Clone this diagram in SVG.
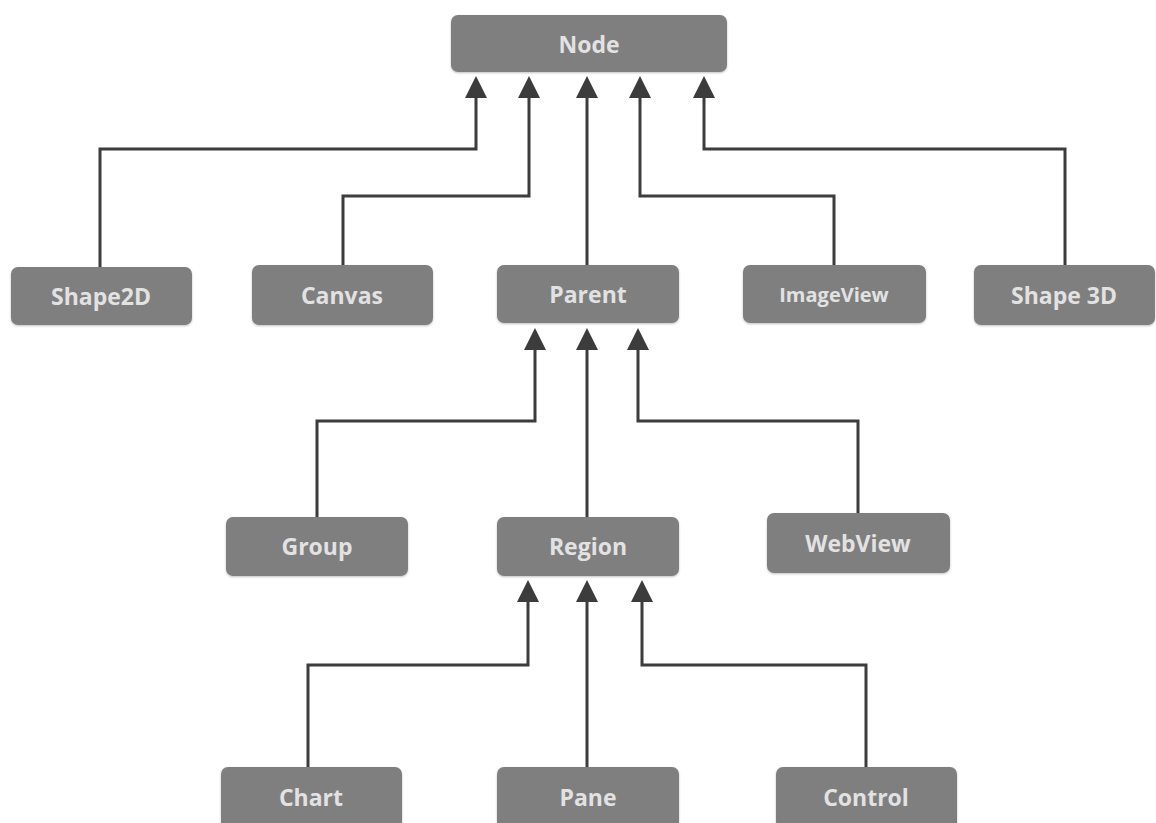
<svg xmlns="http://www.w3.org/2000/svg" width="1156" height="823" viewBox="0 0 1156 823">
<defs>
<marker id="arr" markerUnits="userSpaceOnUse" markerWidth="24" markerHeight="24" viewBox="0 0 24 24" refX="0" refY="12" orient="auto">
<path d="M0,1 L22,12 L0,23 Z" fill="#3c3c3c"/>
</marker>
<filter id="sh" x="-5%" y="-10%" width="110%" height="125%">
<feGaussianBlur in="SourceAlpha" stdDeviation="1.2"/>
<feOffset dx="0" dy="1" result="b"/>
<feComponentTransfer><feFuncA type="linear" slope="0.25"/></feComponentTransfer>
<feMerge><feMergeNode/><feMergeNode in="SourceGraphic"/></feMerge>
</filter>
</defs>
<style>
.box{fill:#7f7f7f;filter:url(#sh)}
.lbl{font-family:"Open Sans","Liberation Sans",sans-serif;font-weight:bold;font-size:23px;fill:#e2e2e2;text-anchor:middle}
.sm{font-size:20px}
.c{fill:none;stroke:#3c3c3c;stroke-width:3;stroke-linejoin:miter}
</style>
<rect width="1156" height="823" fill="#ffffff"/>
<g id="connectors">
<path class="c" d="M100,267 V149 H476 V98" marker-end="url(#arr)"/>
<path class="c" d="M343,265 V196 H529 V98" marker-end="url(#arr)"/>
<path class="c" d="M587,265 V98" marker-end="url(#arr)"/>
<path class="c" d="M834,265 V196 H640 V98" marker-end="url(#arr)"/>
<path class="c" d="M1065,265 V149 H704 V98" marker-end="url(#arr)"/>
<path class="c" d="M317,517 V421 H535 V350" marker-end="url(#arr)"/>
<path class="c" d="M587,517 V350" marker-end="url(#arr)"/>
<path class="c" d="M858,513 V421 H638 V350" marker-end="url(#arr)"/>
<path class="c" d="M308,767 V665 H528 V602" marker-end="url(#arr)"/>
<path class="c" d="M587,767 V602" marker-end="url(#arr)"/>
<path class="c" d="M866,767 V665 H642 V602" marker-end="url(#arr)"/>
</g>
<g id="node-Node"><rect class="box" x="451" y="15" width="276" height="57" rx="7"/><text class="lbl" x="589" y="53">Node</text></g>
<g id="node-Shape2D"><rect class="box" x="11" y="267" width="181" height="58" rx="7"/><text class="lbl" x="101" y="305">Shape2D</text></g>
<g id="node-Canvas"><rect class="box" x="252" y="265" width="181" height="60" rx="7"/><text class="lbl" x="342" y="304">Canvas</text></g>
<g id="node-Parent"><rect class="box" x="497" y="265" width="182" height="58" rx="7"/><text class="lbl" x="588" y="303">Parent</text></g>
<g id="node-ImageView"><rect class="box" x="743" y="265" width="183" height="58" rx="7"/><text class="lbl sm" x="834" y="302">ImageView</text></g>
<g id="node-Shape3D"><rect class="box" x="974" y="265" width="181" height="60" rx="7"/><text class="lbl" x="1064" y="304">Shape 3D</text></g>
<g id="node-Group"><rect class="box" x="226" y="517" width="182" height="59" rx="7"/><text class="lbl" x="317" y="555">Group</text></g>
<g id="node-Region"><rect class="box" x="497" y="517" width="182" height="59" rx="7"/><text class="lbl" x="588" y="555">Region</text></g>
<g id="node-WebView"><rect class="box" x="767" y="513" width="183" height="60" rx="7"/><text class="lbl" x="858" y="552">WebView</text></g>
<g id="node-Chart"><rect class="box" x="221" y="767" width="181" height="62" rx="7"/><text class="lbl" x="311" y="806">Chart</text></g>
<g id="node-Pane"><rect class="box" x="497" y="767" width="182" height="62" rx="7"/><text class="lbl" x="588" y="806">Pane</text></g>
<g id="node-Control"><rect class="box" x="776" y="767" width="181" height="62" rx="7"/><text class="lbl" x="866" y="806">Control</text></g>
</svg>
